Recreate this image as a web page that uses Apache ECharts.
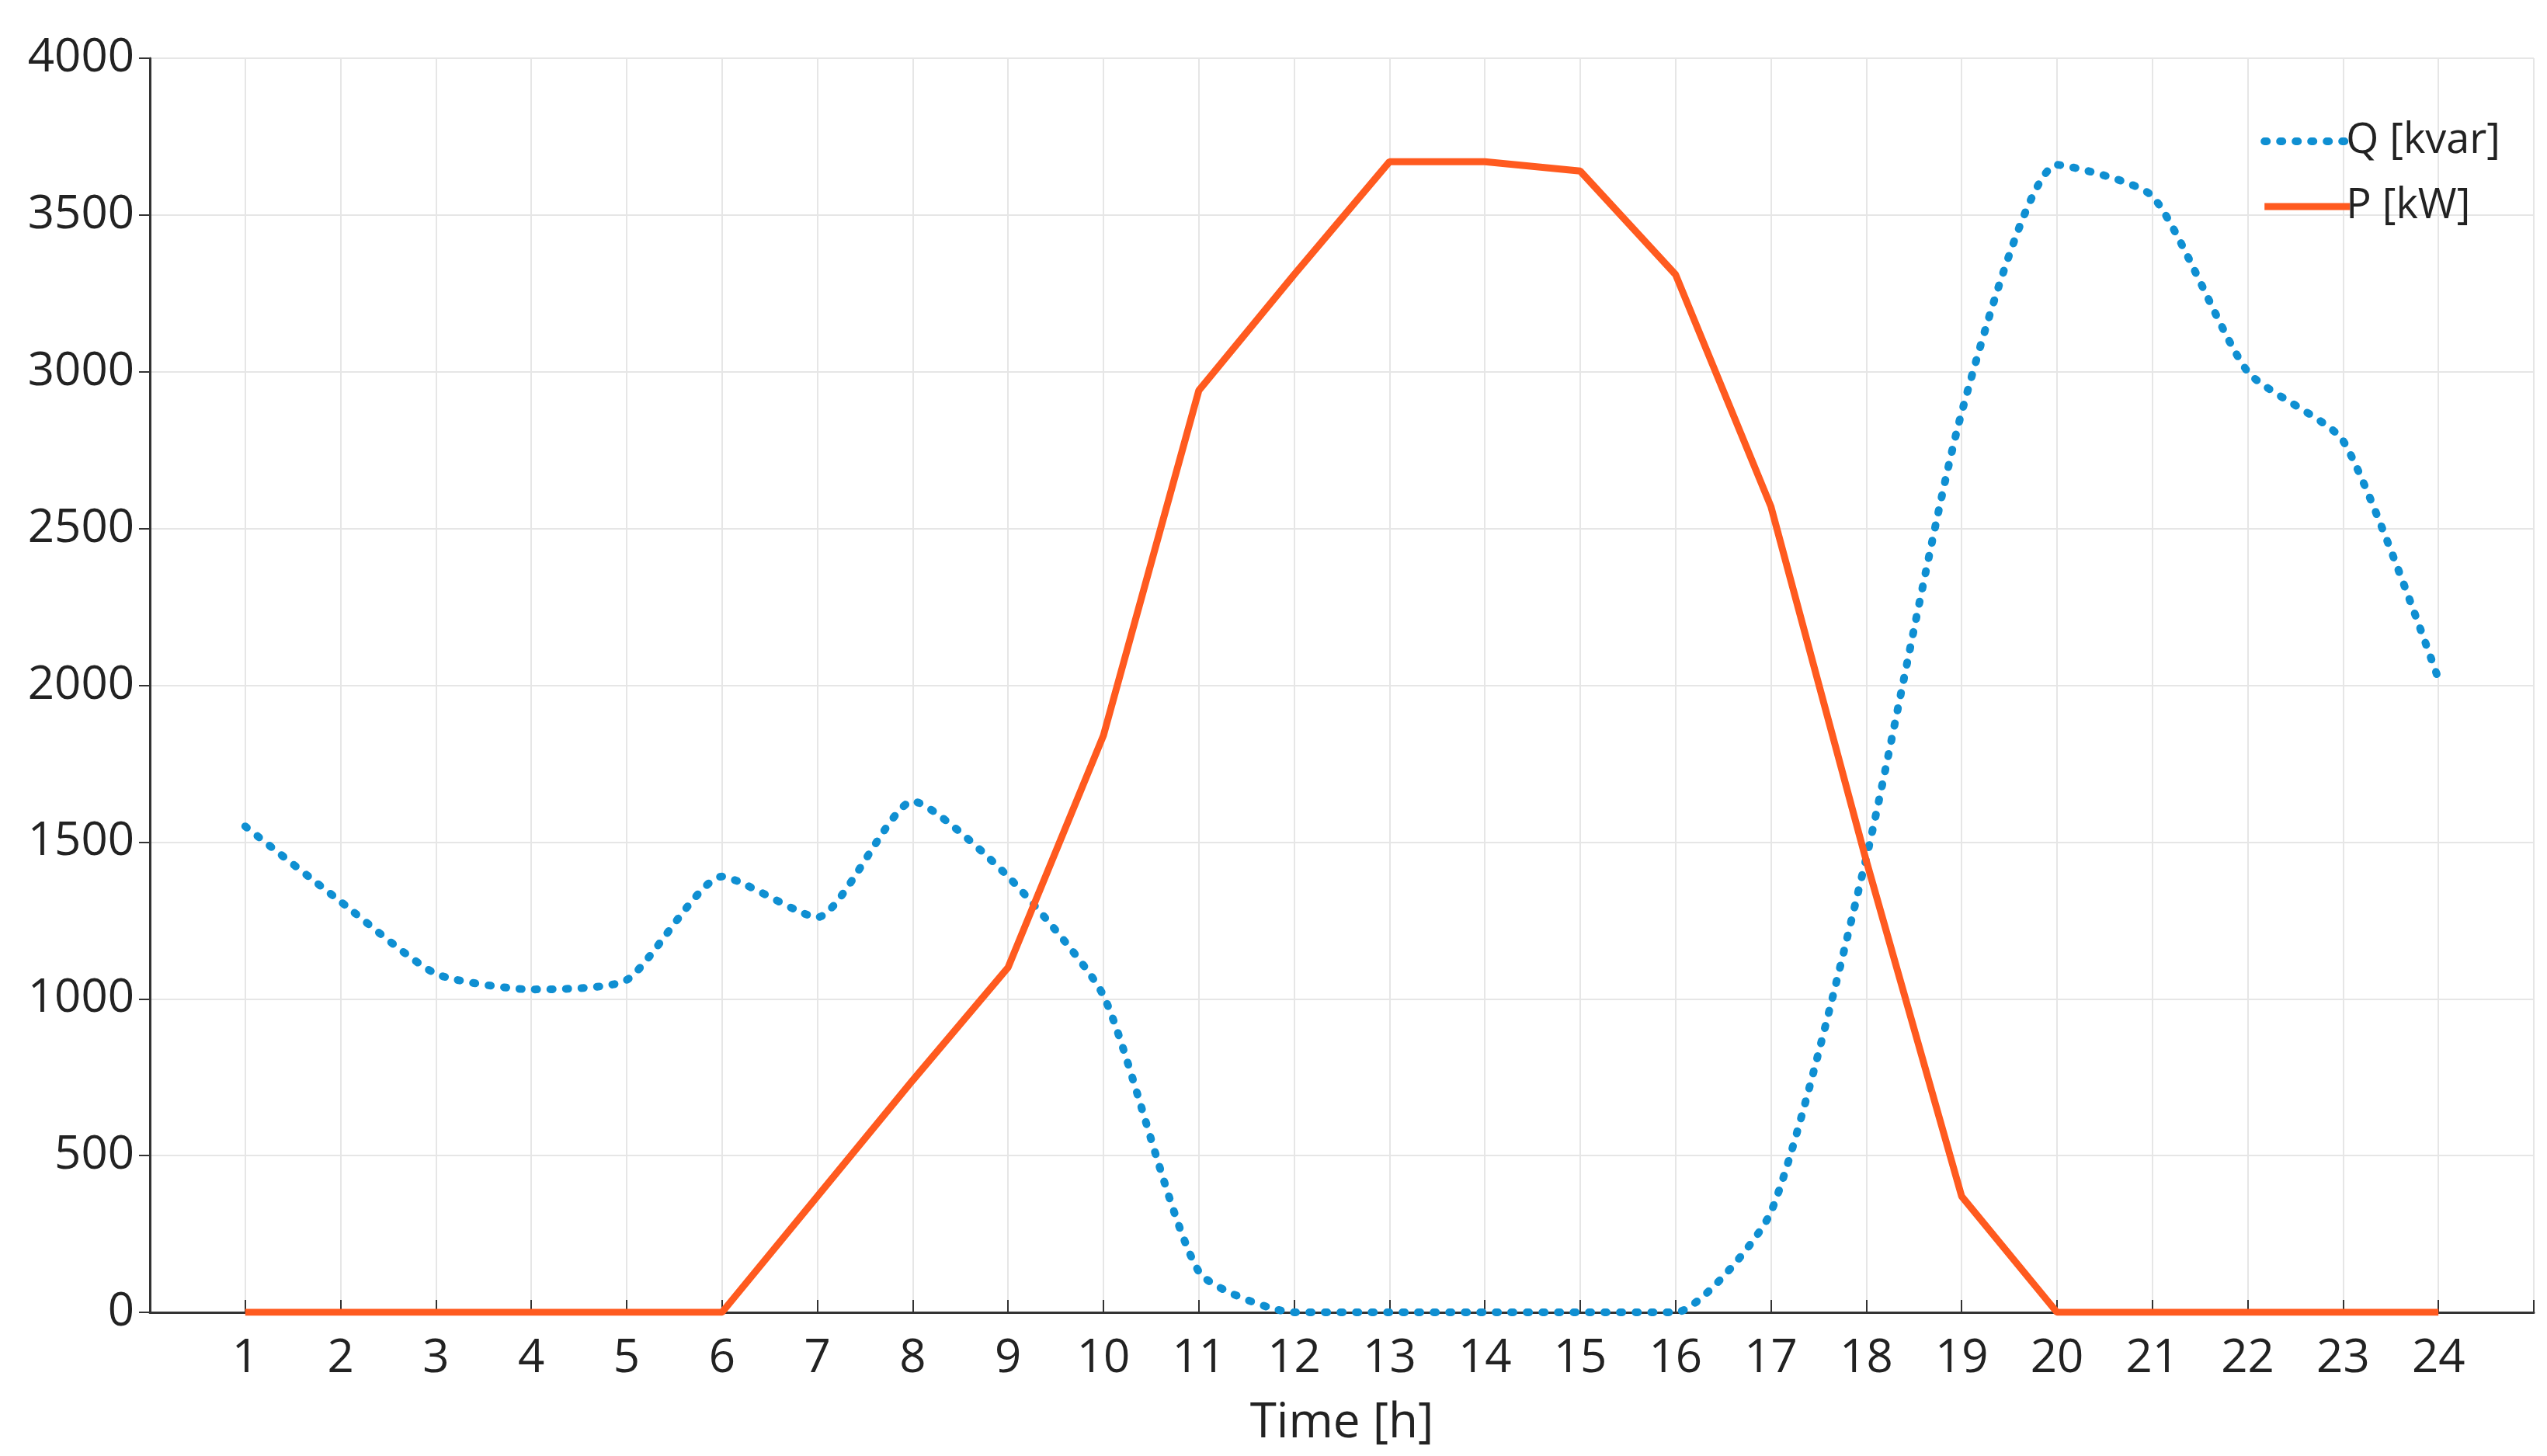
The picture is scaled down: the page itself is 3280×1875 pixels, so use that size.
<!DOCTYPE html>
<html>
<head>
<meta charset="utf-8">
<script src="https://cdn.jsdelivr.net/npm/echarts@6/dist/echarts.min.js"></script>
<style>html,body{margin:0;background:#fff}#chart{width:3280px;height:1875px}</style>
</head>
<body>
<div id="chart"></div>
<script>
const hours = [1,2,3,4,5,6,7,8,9,10,11,12,13,14,15,16,17,18,19,20,21,22,23,24];
const qValues = [1550,1310,1080,1030,1060,1390,1260,1630,1390,1010,130,0,0,0,0,0,320,1450,2870,3660,3560,3000,2780,2020];
const pValues = [0,0,0,0,0,0,370,740,1100,1840,2940,3310,3670,3670,3640,3310,2570,1440,370,0,0,0,0,0];
const yTicks = [0,500,1000,1500,2000,2500,3000,3500,4000];

const font = '"Open Sans", sans-serif';
const chart = echarts.init(document.getElementById('chart'));
chart.setOption({
  animation: false,
  grid: { left: 193, right: 17, top: 75, bottom: 185 },
  legend: {
    right: 55, top: 150, orient: 'vertical', itemGap: 30,
    itemWidth: 110, itemHeight: 20,
    itemStyle: { opacity: 0 },
    textStyle: { fontFamily: font, fontSize: 54, color: '#222', padding: [0, 0, 0, -10] },
    data: [
      { name: 'Q [kvar]', lineStyle: { width: 10, type: [3, 17], cap: 'round' } },
      { name: 'P [kW]', lineStyle: { width: 9 } }
    ]
  },
  xAxis: {
    type: 'value', min: 0, max: 25, interval: 1,
    name: 'Time [h]', nameLocation: 'middle', nameGap: 112,
    nameTextStyle: { fontFamily: font, fontSize: 62, color: '#222' },
    axisLine: { lineStyle: { color: '#333', width: 3 } },
    axisTick: { inside: true, length: 16, lineStyle: { color: '#333', width: 2 } },
    axisLabel: {
      fontFamily: font, fontSize: 60, color: '#222', margin: 30,
      formatter: v => (v >= 1 && v <= 24 ? String(v) : '')
    },
    splitLine: { show: true, lineStyle: { color: '#e6e6e6', width: 2 } }
  },
  yAxis: {
    type: 'value', min: 0, max: 4000, interval: 500,
    axisLine: { show: true, lineStyle: { color: '#333', width: 3 } },
    axisTick: { show: true, length: 14, lineStyle: { color: '#333', width: 2 } },
    axisLabel: {
      fontFamily: font, fontSize: 60, color: '#222', margin: 20,
      formatter: v => (yTicks.includes(v) ? String(v) : '')
    },
    splitLine: { show: true, lineStyle: { color: '#e6e6e6', width: 2 } }
  },
  series: [
    {
      name: 'Q [kvar]', type: 'line', smooth: 0.2, showSymbol: false, symbol: 'none',
      data: hours.map((h, i) => [h, qValues[i]]),
      lineStyle: { color: '#0f8fd2', width: 10, type: [3, 17], cap: 'round' },
      itemStyle: { color: '#0f8fd2' }
    },
    {
      name: 'P [kW]', type: 'line', showSymbol: false, symbol: 'none',
      data: hours.map((h, i) => [h, pValues[i]]),
      lineStyle: { color: '#ff5a1f', width: 9 },
      itemStyle: { color: '#ff5a1f' }
    }
  ]
});
</script>
</body>
</html>
